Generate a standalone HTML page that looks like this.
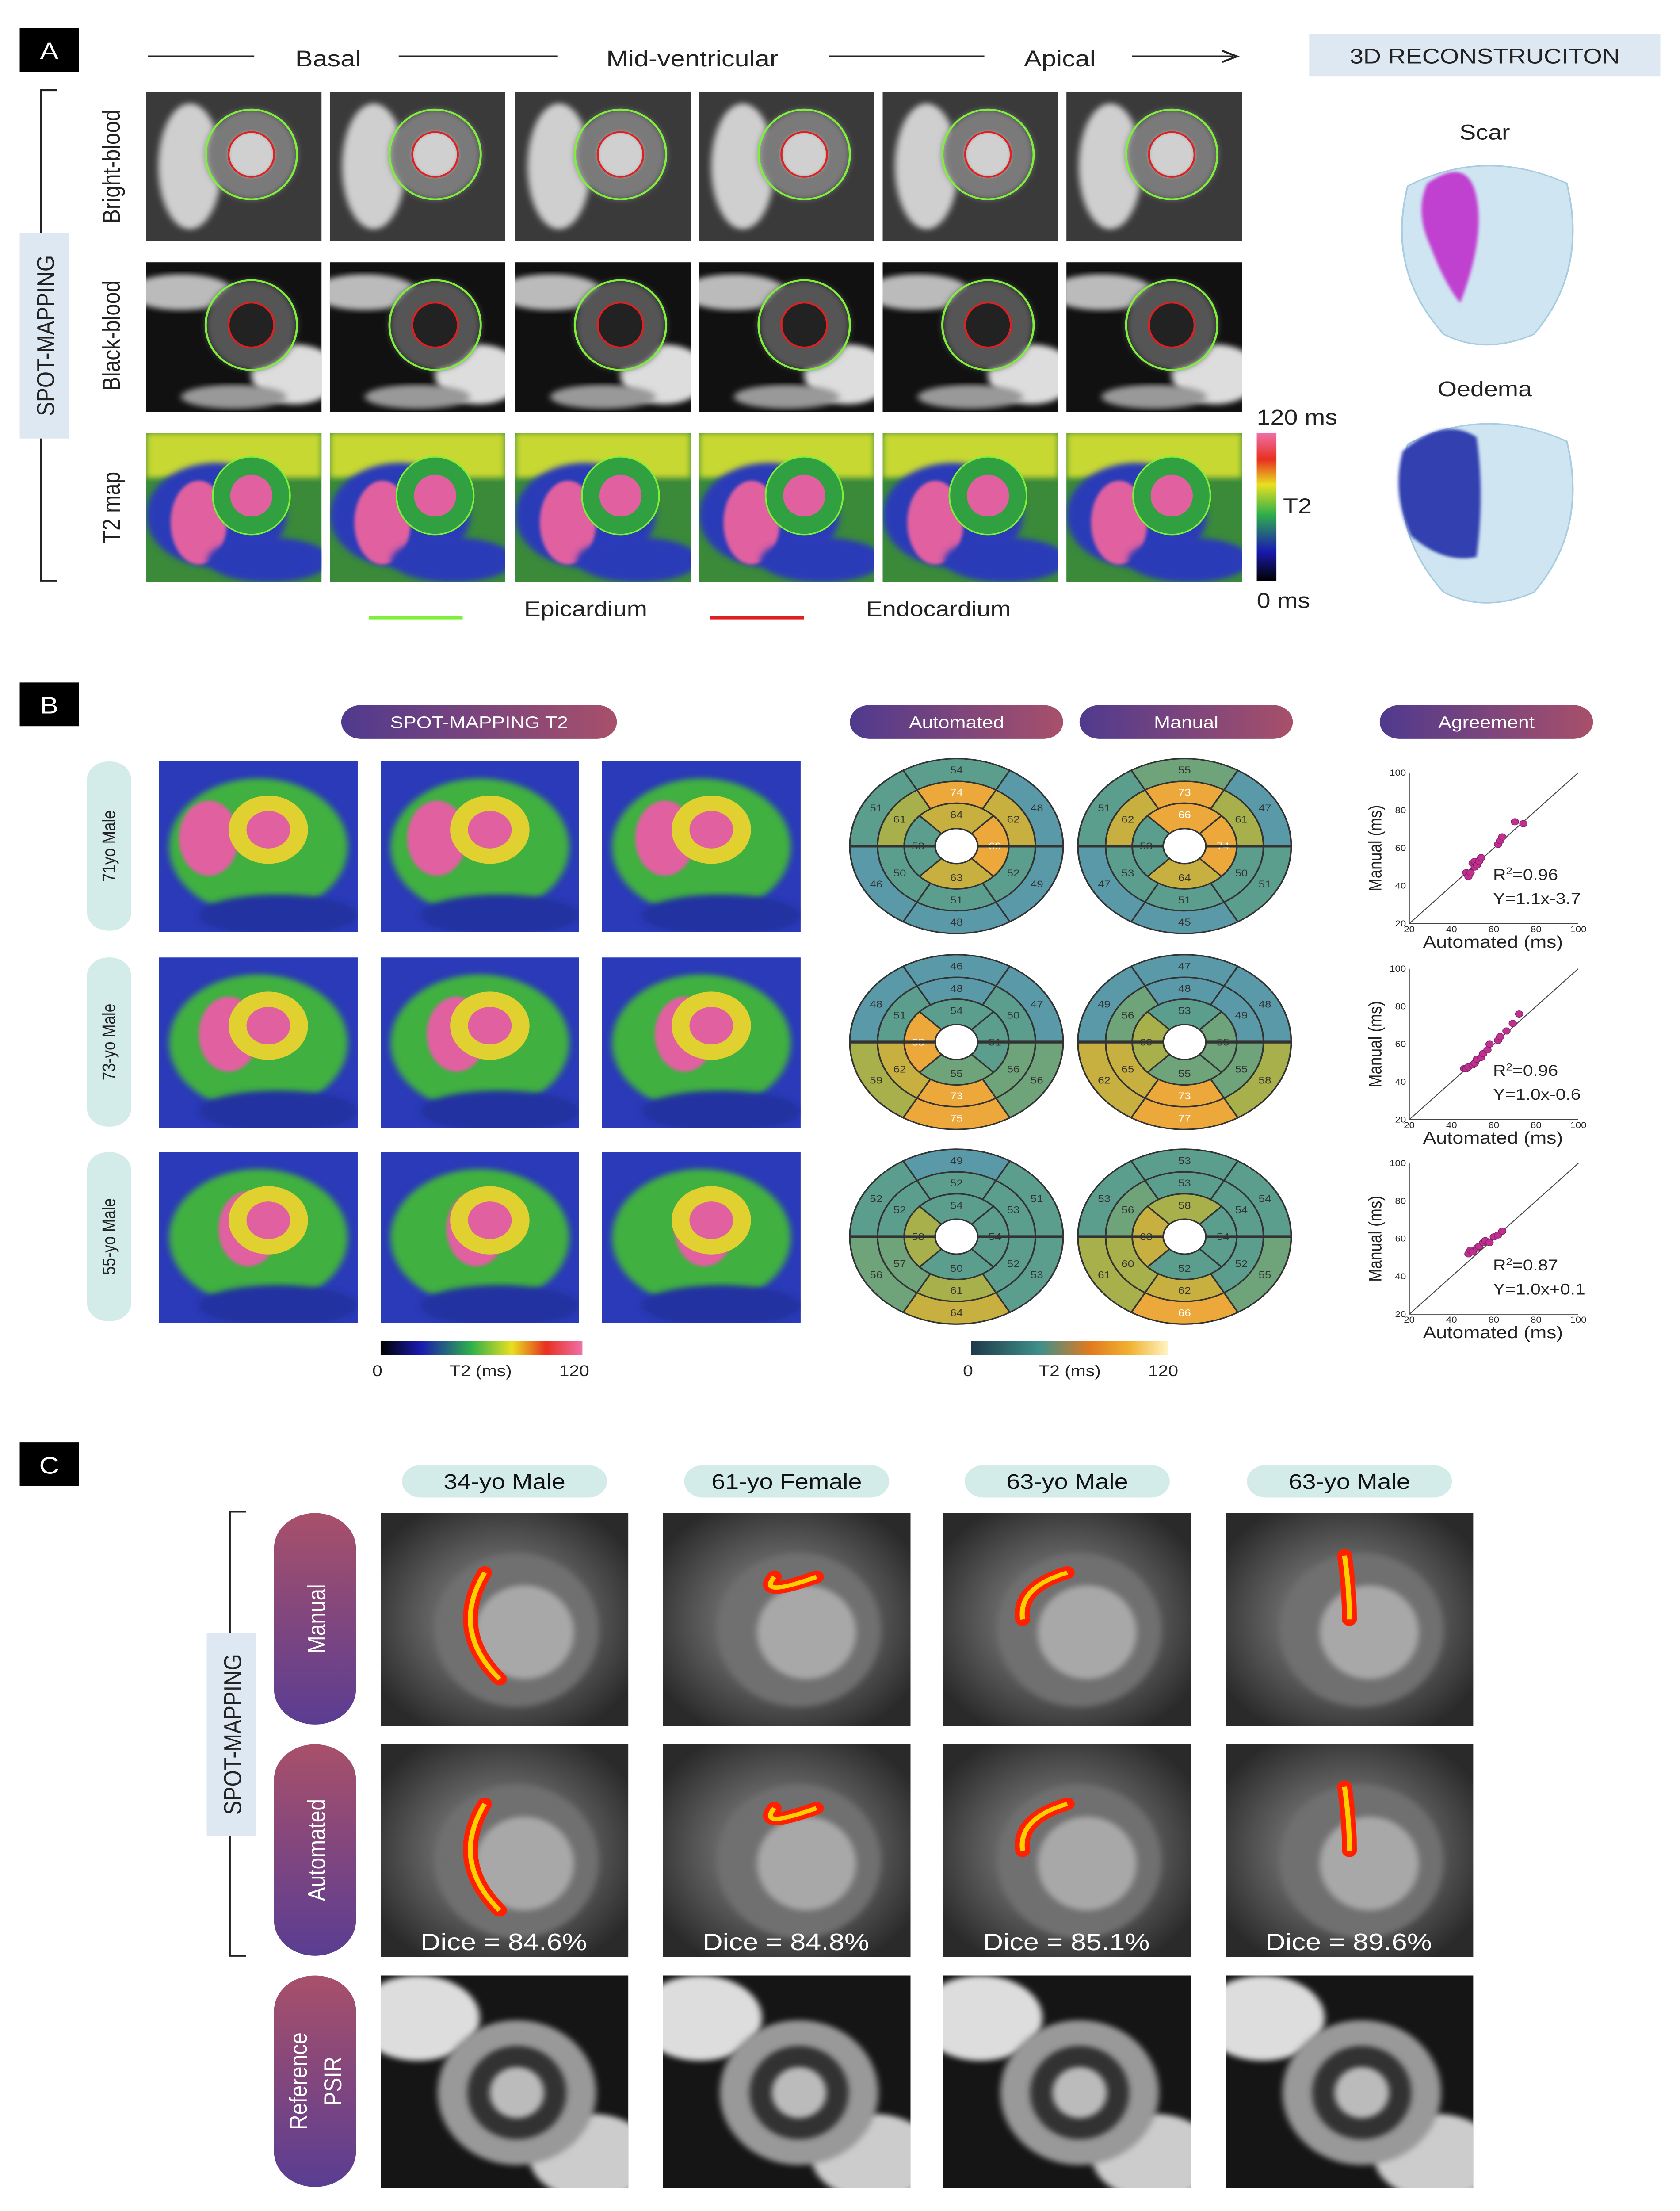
<!DOCTYPE html>
<html><head><meta charset="utf-8"><style>
html,body{margin:0;padding:0;background:#fff;width:100%;height:100%;overflow:hidden}
svg{display:block;font-family:"Liberation Sans",sans-serif;overflow:hidden;width:100vw;height:100vh}
</style></head><body>
<svg id="fig" viewBox="0 0 1024 1568" preserveAspectRatio="none" xmlns="http://www.w3.org/2000/svg">
<defs>
<linearGradient id="pur" x1="0" y1="0" x2="1" y2="0"><stop offset="0" stop-color="#4f3a8e"/><stop offset="1" stop-color="#a8506a"/></linearGradient>
<linearGradient id="purv" x1="0" y1="0" x2="0" y2="1"><stop offset="0" stop-color="#a8506a"/><stop offset="1" stop-color="#5a3d92"/></linearGradient>
<linearGradient id="t2bar" x1="0" y1="1" x2="0" y2="0"><stop offset="0" stop-color="#000"/><stop offset=".2" stop-color="#1a1ab0"/><stop offset=".45" stop-color="#2fb04a"/><stop offset=".65" stop-color="#e8e020"/><stop offset=".82" stop-color="#e83020"/><stop offset="1" stop-color="#ee70a8"/></linearGradient>
<linearGradient id="t2h" x1="0" y1="0" x2="1" y2="0"><stop offset="0" stop-color="#000"/><stop offset=".2" stop-color="#1a1ab0"/><stop offset=".45" stop-color="#2fb04a"/><stop offset=".65" stop-color="#e8e020"/><stop offset=".82" stop-color="#e83020"/><stop offset="1" stop-color="#ee70a8"/></linearGradient>
<linearGradient id="bebar" x1="0" y1="0" x2="1" y2="0"><stop offset="0" stop-color="#1e3a4a"/><stop offset=".35" stop-color="#3f8f8a"/><stop offset=".6" stop-color="#e07a20"/><stop offset=".8" stop-color="#f0b030"/><stop offset="1" stop-color="#fff4c0"/></linearGradient>
<radialGradient id="gbright" cx=".5" cy=".5" r=".6"><stop offset="0" stop-color="#9a9a9a"/><stop offset="1" stop-color="#2a2a2a"/></radialGradient>
<filter id="blur"><feGaussianBlur stdDeviation="2"/></filter>
<filter id="blur1"><feGaussianBlur stdDeviation="1"/></filter>
</defs>
<g id="root"></g>
</svg>
<script>
// ---------- chart data ----------
const bullseyeAuto1 = [54,48,49,48,46,51, 74,62,52,51,50,61, 64,69,63,53];
const bullseyeMan1  = [55,47,51,45,47,51, 73,61,50,51,53,62, 66,74,64,53];
const bullseyeAuto2 = [46,47,56,75,59,48, 48,50,56,73,62,51, 54,51,55,68];
const bullseyeMan2  = [47,48,58,77,62,49, 48,49,55,73,65,56, 53,55,55,60];
const bullseyeAuto3 = [49,51,53,64,56,52, 52,53,52,61,57,52, 54,54,50,58];
const bullseyeMan3  = [53,54,55,66,61,53, 53,54,52,62,60,56, 58,54,52,63];
const scatterX1 = [47,48,49,50,51,51,52,53,54,62,63,64,70,74];
const scatterY1 = [47,45,47,52,50,53,51,53,55,62,64,66,74,73];
const scatterX2 = [46,47,48,50,51,52,54,55,57,58,62,63,66,69,72];
const scatterY2 = [47,47,48,49,50,52,53,55,57,60,62,64,67,71,76];
const scatterX3 = [48,49,50,52,53,55,56,58,60,62,64];
const scatterY3 = [52,54,53,55,56,58,59,58,61,62,64];
const scatterStats = [["0.96","Y=1.1x-3.7"],["0.96","Y=1.0x-0.6"],["0.87","Y=1.0x+0.1"]];
const axisTicks = [20,40,60,80,100];

const NS="http://www.w3.org/2000/svg";
const root=document.getElementById('root');
function el(tag,attrs,parent,text){const e=document.createElementNS(NS,tag);for(const k in attrs)e.setAttribute(k,attrs[k]);if(text!==undefined)e.textContent=text;(parent||root).appendChild(e);return e;}
function txt(x,y,s,size,name,opts){opts=opts||{};const t=el('text',Object.assign({x:x,y:y,'font-size':size,'text-anchor':opts.anchor||'middle',fill:opts.fill||'#222'},opts.extra||{}),opts.parent,s);


return t;}

function panelLabel(x,y,L){const g=el('g',{});


el('rect',{x:x,y:y,width:36,height:31,fill:'#000'},g);txt(x+18,y+22,L,17,'panel-letter',{fill:'#fff',parent:g});}
panelLabel(12,20,'A');panelLabel(12,484,'B');panelLabel(12,1023,'C');

// ---------- Panel A ----------
[[90,155],[243,340],[505,600]].forEach(function(p){const l=el('line',{x1:p[0],y1:40,x2:p[1],y2:40,stroke:'#222','stroke-width':1.3});

});
const arr=el('path',{d:'M690 40 H752 M745 36 L754 40 L745 44',stroke:'#222','stroke-width':1.3,fill:'none'});


txt(200,47,'Basal',16,'header-basal');txt(422,47,'Mid-ventricular',16,'header-mid');txt(646,47,'Apical',16,'header-apical');
const rb=el('rect',{x:798,y:24,width:214,height:30,fill:'#dde8f3'});


txt(905,45,'3D RECONSTRUCITON',15,'reconstruction-title');

function bracket(x,y1,y2,name){const p=el('path',{d:`M${x+10} ${y1} H${x} V${y2} H${x+10}`,stroke:'#222','stroke-width':1.3,fill:'none'});

}
bracket(25,64,412,'spot-mapping-bracket-a');
const smA=el('rect',{x:12,y:165,width:30,height:146,fill:'#dde8f3'});


txt(0,0,'SPOT-MAPPING',15,'spot-mapping-label-a',{extra:{transform:'translate(33,238) rotate(-90)'}});
txt(0,0,'Bright-blood',15,'row-label-bright',{extra:{transform:'translate(73,118) rotate(-90)'}});
txt(0,0,'Black-blood',15,'row-label-black',{extra:{transform:'translate(73,238) rotate(-90)'}});
txt(0,0,'T2 map',15,'row-label-t2',{extra:{transform:'translate(73,360) rotate(-90)'}});

const scarArcs=[[.42,.28,.28,.55,.48,.78],[.45,.3,.38,.4,.62,.3],[.32,.5,.3,.35,.5,.28],[.5,.5,.5,.35,.48,.2]];
function mriImage(x,y,w,h,type,name,i){
 const g=el('g',{});
 
 
 const cp='cp'+name+i;const c=el('clipPath',{id:cp},g);el('rect',{x:x,y:y,width:w,height:h},c);
 const gi=el('g',{'clip-path':`url(#${cp})`},g);
 const cx=x+w*0.6,cy=y+h*0.42;
 if(type==='bright'){el('rect',{x:x,y:y,width:w,height:h,fill:'#3a3a3a'},gi);
  el('ellipse',{cx:x+w*.25,cy:y+h*.5,rx:w*.18,ry:h*.42,fill:'#cfcfcf',filter:'url(#blur)'},gi);
  el('ellipse',{cx:cx,cy:cy,rx:w*.26,ry:h*.3,fill:'#7a7a7a',filter:'url(#blur)'},gi);
  el('ellipse',{cx:cx,cy:cy,rx:w*.13,ry:h*.15,fill:'#d0d0d0',filter:'url(#blur1)'},gi);
  el('ellipse',{cx:cx,cy:cy,rx:w*.26,ry:h*.3,fill:'none',stroke:'#7ef03a','stroke-width':1.3},gi);
  el('ellipse',{cx:cx,cy:cy,rx:w*.13,ry:h*.15,fill:'none',stroke:'#e02020','stroke-width':1.2},gi);}
 else if(type==='black'){el('rect',{x:x,y:y,width:w,height:h,fill:'#111'},gi);
  el('ellipse',{cx:x+w*.2,cy:y+h*.2,rx:w*.3,ry:h*.12,fill:'#bbb',filter:'url(#blur)'},gi);
  el('ellipse',{cx:x+w*.85,cy:y+h*.75,rx:w*.25,ry:h*.2,fill:'#ddd',filter:'url(#blur)'},gi);
  el('ellipse',{cx:x+w*.5,cy:y+h*.9,rx:w*.3,ry:h*.08,fill:'#999',filter:'url(#blur)'},gi);
  el('ellipse',{cx:cx,cy:cy,rx:w*.26,ry:h*.3,fill:'#555',filter:'url(#blur)'},gi);
  el('ellipse',{cx:cx,cy:cy,rx:w*.13,ry:h*.15,fill:'#222'},gi);
  el('ellipse',{cx:cx,cy:cy,rx:w*.26,ry:h*.3,fill:'none',stroke:'#7ef03a','stroke-width':1.3},gi);
  el('ellipse',{cx:cx,cy:cy,rx:w*.13,ry:h*.15,fill:'none',stroke:'#e02020','stroke-width':1.2},gi);}
 else if(type==='t2'){el('rect',{x:x,y:y,width:w,height:h,fill:'#3a8a3a'},gi);
  el('rect',{x:x,y:y,width:w,height:h*.3,fill:'#c8d830',filter:'url(#blur)'},gi);
  el('ellipse',{cx:x+w*.4,cy:y+h*.55,rx:w*.4,ry:h*.35,fill:'#2a3ab8',filter:'url(#blur)'},gi);
  el('ellipse',{cx:x+w*.3,cy:y+h*.6,rx:w*.16,ry:h*.28,fill:'#e060a0',filter:'url(#blur1)'},gi);
  el('ellipse',{cx:x+w*.7,cy:y+h*.85,rx:w*.35,ry:h*.15,fill:'#2a3ab8',filter:'url(#blur)'},gi);
  el('ellipse',{cx:cx,cy:cy,rx:w*.22,ry:h*.26,fill:'#30a040'},gi);
  el('ellipse',{cx:cx,cy:cy,rx:w*.12,ry:h*.14,fill:'#e060a0'},gi);
  el('ellipse',{cx:cx,cy:cy,rx:w*.22,ry:h*.26,fill:'none',stroke:'#7ef03a','stroke-width':1},gi);}
 else if(type==='t2b'){el('rect',{x:x,y:y,width:w,height:h,fill:'#2a3ab8'},gi);
  el('ellipse',{cx:x+w*.5,cy:y+h*.5,rx:w*.45,ry:h*.4,fill:'#40b040',filter:'url(#blur)'},gi);
  el('ellipse',{cx:x+w*.25+i*4,cy:y+h*.45,rx:w*.15,ry:h*.22,fill:'#e060a0',filter:'url(#blur1)'},gi);
  el('ellipse',{cx:x+w*.55,cy:y+h*.4,rx:w*.2,ry:h*.2,fill:'#e0d030'},gi);
  el('ellipse',{cx:x+w*.55,cy:y+h*.4,rx:w*.11,ry:h*.11,fill:'#e060a0'},gi);
  el('ellipse',{cx:x+w*.6,cy:y+h*.9,rx:w*.4,ry:h*.12,fill:'#2030a0',filter:'url(#blur)'},gi);}
 else if(type==='lge'){el('rect',{x:x,y:y,width:w,height:h,fill:'url(#gbright)'},gi);
  el('ellipse',{cx:x+w*.55,cy:y+h*.55,rx:w*.33,ry:h*.36,fill:'#707070',filter:'url(#blur)'},gi);
  el('ellipse',{cx:x+w*.58,cy:y+h*.56,rx:w*.2,ry:h*.22,fill:'#a8a8a8',filter:'url(#blur)'},gi);
  const a=scarArcs[i%4];const d=`M${x+w*a[0]} ${y+h*a[1]} Q${x+w*a[2]} ${y+h*a[3]} ${x+w*a[4]} ${y+h*a[5]}`;
  el('path',{d:d,stroke:'#ff2000','stroke-width':w*.06,fill:'none','stroke-linecap':'round'},gi);
  el('path',{d:d,stroke:'#ffd000','stroke-width':w*.02,fill:'none'},gi);}
 else {el('rect',{x:x,y:y,width:w,height:h,fill:'#151515'},gi);
  el('ellipse',{cx:x+w*.15,cy:y+h*.2,rx:w*.25,ry:h*.2,fill:'#ddd',filter:'url(#blur)'},gi);
  el('ellipse',{cx:x+w*.85,cy:y+h*.85,rx:w*.25,ry:h*.2,fill:'#ccc',filter:'url(#blur)'},gi);
  el('ellipse',{cx:x+w*.55,cy:y+h*.55,rx:w*.32,ry:h*.34,fill:'#999',filter:'url(#blur)'},gi);
  el('ellipse',{cx:x+w*.55,cy:y+h*.55,rx:w*.2,ry:h*.22,fill:'#333',filter:'url(#blur)'},gi);
  el('ellipse',{cx:x+w*.55,cy:y+h*.55,rx:w*.11,ry:h*.12,fill:'#bbb',filter:'url(#blur)'},gi);}
 return g;}

const colsA=[89,201,314,426,538,650];
colsA.forEach(function(cx,i){mriImage(cx,65,107,106,'bright','bright-blood-image',i);mriImage(cx,186,107,106,'black','black-blood-image',i);mriImage(cx,307,107,106,'t2','t2-map-image',i);});
const cb=el('rect',{x:766,y:307,width:12,height:105,fill:'url(#t2bar)'});


txt(766,301,'120 ms',15,'colorbar-max',{anchor:'start'});txt(782,364,'T2',15,'colorbar-title',{anchor:'start'});txt(766,431,'0 ms',15,'colorbar-min',{anchor:'start'});
const lg1=el('line',{x1:225,y1:438,x2:282,y2:438,stroke:'#7ef03a','stroke-width':2.5});


const lg2=el('line',{x1:433,y1:438,x2:490,y2:438,stroke:'#e02020','stroke-width':2.5});


txt(357,437,'Epicardium',15,'legend-epicardium');txt(572,437,'Endocardium',15,'legend-endocardium');
txt(905,99,'Scar',15,'scar-title');txt(905,281,'Oedema',15,'oedema-title');
function heart(y0,blob,name){const g=el('g',{});
 
 
 el('path',{d:`M858 ${y0+20} Q905 ${y0-8} 955 ${y0+18} Q968 ${y0+80} 935 ${y0+125} Q905 ${y0+140} 880 ${y0+125} Q845 ${y0+80} 858 ${y0+20}Z`,fill:'#cfe6f2',stroke:'#a8cde0','stroke-width':1},g);
 el('path',{d:blob,fill:name==='scar-3d'?'#c040d0':'#3040b0',filter:'url(#blur1)'},g);}
heart(112,'M870 130 Q895 110 900 140 Q905 170 890 215 Q880 200 872 175 Q862 150 870 130Z','scar-3d');
heart(295,'M855 320 Q880 295 900 310 Q905 350 900 395 Q880 400 860 380 Q848 350 855 320Z','oedema-3d');

// ---------- Panel B ----------
function pill(x,y,w,h,label,name,fill,size,color){const g=el('g',{});
 
 
 el('rect',{x:x,y:y,width:w,height:h,rx:h/2,fill:fill},g);txt(x+w/2,y+h/2+size*0.36,label,size,name+'-text',{fill:color,parent:g});}
pill(208,500,168,24,'SPOT-MAPPING T2','spot-mapping-t2-pill','url(#pur)',12,'#fff');
pill(518,500,130,24,'Automated','automated-pill','url(#pur)',12,'#fff');
pill(658,500,130,24,'Manual','manual-pill','url(#pur)',12,'#fff');
pill(841,500,130,24,'Agreement','agreement-pill','url(#pur)',12,'#fff');
const rowsB=[540,679,817];const subj=['71yo Male','73-yo Male','55-yo Male'];
rowsB.forEach(function(y,r){const g=el('rect',{x:53,y:y,width:27,height:120,rx:13,fill:'#d3ecea'});
 
 
 txt(0,0,subj[r],11,'subject-label',{extra:{transform:`translate(70,${y+60}) rotate(-90)`}});
 [97,232,367].forEach(function(x,i){mriImage(x,y,121,121,'t2b','t2-slice-image',r*3+i);});});
const bar1=el('rect',{x:232,y:951,width:123,height:10,fill:'url(#t2h)'});


txt(230,976,'0',11,'colorbar-b-min');txt(293,976,'T2 (ms)',11,'colorbar-b-title');txt(350,976,'120',11,'colorbar-b-max');
const bar2=el('rect',{x:592,y:951,width:120,height:10,fill:'url(#bebar)'});


txt(590,976,'0',11,'bullseye-colorbar-min');txt(652,976,'T2 (ms)',11,'bullseye-colorbar-title');txt(709,976,'120',11,'bullseye-colorbar-max');

function segColor(v){if(v>=66)return '#eda83c';if(v>=62)return '#c8b040';if(v>=58)return '#a7b04a';if(v>=55)return '#6fa37a';if(v>=50)return '#5c9e8e';return '#5a9aa8';}
function ringPath(cx,cy,r1,r2,a1,a2,sy){const p=(r,a)=>[cx+r*Math.cos(a*Math.PI/180),cy-r*sy*Math.sin(a*Math.PI/180)];
 const A=p(r2,a1),B=p(r2,a2),C=p(r1,a2),D=p(r1,a1);const lg=(a2-a1)>180?1:0;
 return `M${A[0]} ${A[1]} A${r2} ${r2*sy} 0 ${lg} 0 ${B[0]} ${B[1]} L${C[0]} ${C[1]} A${r1} ${r1*sy} 0 ${lg} 1 ${D[0]} ${D[1]}Z`;}
function bullseye(cx,cy,vals,name){const g=el('g',{});
 
 
 const R=65,sy=62/65;const rings=[[R*0.74,R,6,60],[R*0.49,R*0.74,6,60],[R*0.2,R*0.49,4,45]];let k=0;
 rings.forEach(function(rg){const n=rg[2],step=360/n;for(let s=0;s<n;s++){const mid=90-s*step;const a1=mid-step/2,a2=mid+step/2;
  const v=vals[k++];const seg=el('path',{d:ringPath(cx,cy,rg[0],rg[1],a1,a2,sy),fill:segColor(v),stroke:'#333','stroke-width':1},g);
  
  
  const rm=(rg[0]+rg[1])/2+(n===4?1:0);const tx=cx+rm*Math.cos(mid*Math.PI/180),ty=cy-rm*sy*Math.sin(mid*Math.PI/180);
  txt(tx,ty+2.5,String(v),7,'segment-value',{fill:v>=66?'#fff':'#333',parent:g});}});
 el('line',{x1:cx-R,y1:cy,x2:cx-R*0.2,y2:cy,stroke:'#333','stroke-width':2},g);
 el('line',{x1:cx+R*0.2,y1:cy,x2:cx+R,y2:cy,stroke:'#333','stroke-width':2},g);}
const autos=[bullseyeAuto1,bullseyeAuto2,bullseyeAuto3],mans=[bullseyeMan1,bullseyeMan2,bullseyeMan3];
rowsB.forEach(function(y,r){bullseye(583,y+60,autos[r],'bullseye-automated');bullseye(722,y+60,mans[r],'bullseye-manual');});

const sxs=[scatterX1,scatterX2,scatterX3],sys=[scatterY1,scatterY2,scatterY3];
rowsB.forEach(function(y0,r){const g=el('g',{});
 
 
 const left=859,right=962,top=y0+8,bot=y0+115;
 const X=v=>left+(v-20)/80*(right-left),Y=v=>bot-(v-20)/80*(bot-top);
 el('line',{x1:left,y1:top,x2:left,y2:bot,stroke:'#444','stroke-width':.6},g);
 el('line',{x1:left,y1:bot,x2:right,y2:bot,stroke:'#444','stroke-width':.6},g);
 axisTicks.forEach(function(t){txt(left-2,Y(t)+2,String(t),6,'y-tick',{anchor:'end',parent:g});txt(X(t),bot+6,String(t),6,'x-tick',{parent:g});});
 el('line',{x1:X(20),y1:Y(20),x2:X(100),y2:Y(100),stroke:'#444','stroke-width':.6},g);
 sxs[r].forEach(function(v,i){const c=el('circle',{cx:X(v),cy:Y(sys[r][i]),r:2.3,fill:'#c03090',stroke:'#802060','stroke-width':.4},g);
  
  });
 txt(0,0,'Manual (ms)',11,'y-axis-title',{parent:g,extra:{transform:`translate(842,${(top+bot)/2}) rotate(-90)`}});
 txt(910,bot+17,'Automated (ms)',12,'x-axis-title',{parent:g});
 const rt=txt(910,top+76,'',11,'r-squared',{anchor:'start',parent:g});el('tspan',{},rt,'R');el('tspan',{dy:-4,'font-size':7},rt,'2');el('tspan',{dy:4},rt,'='+scatterStats[r][0]);
 txt(910,top+93,scatterStats[r][1],11,'regression-equation',{anchor:'start',parent:g});});

// ---------- Panel C ----------
const colsC=[232,404,575,747];const heads=['34-yo Male','61-yo Female','63-yo Male','63-yo Male'];const dice=['84.6','84.8','85.1','89.6'];
colsC.forEach(function(x,i){pill(x+13,1039,125,23,heads[i],'subject-header-pill','#d3ecea',15,'#111');});
bracket(140,1072,1387,'spot-mapping-bracket-c');
const smC=el('rect',{x:126,y:1158,width:30,height:144,fill:'#dde8f3'});


txt(0,0,'SPOT-MAPPING',15,'spot-mapping-label-c',{extra:{transform:'translate(147,1230) rotate(-90)'}});
const rowsC=[1073,1237,1401];const rowNames=['Manual','Automated'];
rowsC.forEach(function(y,r){const g=el('rect',{x:167,y:y,width:50,height:150,rx:25,fill:'url(#purv)'});
 
 
 if(r<2)txt(0,0,rowNames[r],15,'row-label',{fill:'#fff',extra:{transform:`translate(198,${y+75}) rotate(-90)`}});
 else{txt(0,0,'Reference',15,'row-label',{fill:'#fff',extra:{transform:`translate(187,${y+75}) rotate(-90)`}});txt(0,0,'PSIR',15,'row-label',{fill:'#fff',extra:{transform:`translate(208,${y+75}) rotate(-90)`}});}
 colsC.forEach(function(x,i){mriImage(x,y,151,151,r<2?'lge':'psir','cmr-image',r*4+i);
  if(r===1)txt(x+75,y+146,'Dice = '+dice[i]+'%',17,'dice-score',{fill:'#fff'});});});
</script>
</body></html>
